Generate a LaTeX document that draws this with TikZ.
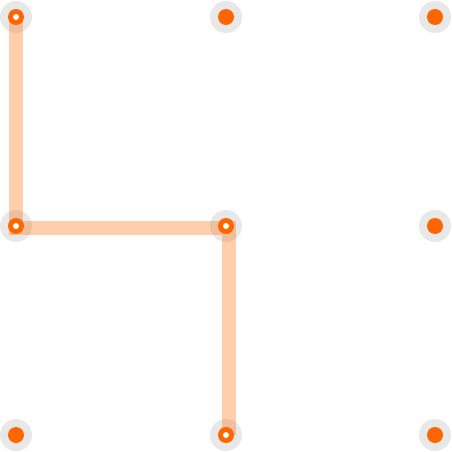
\documentclass[tikz,border=0pt]{standalone}
\definecolor{dotorange}{HTML}{FF6600}
\definecolor{halogray}{HTML}{E8E8E8}
\tikzset{
  halo/.style={circle,fill=halogray,minimum size=32pt,inner sep=0pt},
  dotnode/.style={circle,fill=dotorange,minimum size=16pt,inner sep=0pt},
  hole/.style={circle,fill=white,minimum size=6pt,inner sep=0pt},
  trail/.style={draw=dotorange,draw opacity=0.32,line width=14pt,line join=miter}
}
\begin{document}
\begin{tikzpicture}[x=1pt,y=-1pt]
\useasboundingbox (0,0) rectangle (452,452);
% halos
\foreach \c/\x in {a/16,b/226,c/435}{
  \foreach \r/\y in {1/17,2/226,3/435}{
    \node[halo] (h\c\r) at (\x,\y) {};
  }
}
% path coordinates
\coordinate (p1) at (16,17);
\coordinate (p2) at (16,228);
\coordinate (p3) at (229,228);
\coordinate (p4) at (229,435);
\draw[trail] (p1) -- (p2) -- (p3) -- (p4);
% dots
\foreach \c/\x in {a/16,b/226,c/435}{
  \foreach \r/\y in {1/17,2/226,3/435}{
    \node[dotnode] (d\c\r) at (\x,\y) {};
  }
}
\node[hole] (wa1) at (da1) {};
\node[hole] (wa2) at (da2) {};
\node[hole] (wb2) at (db2) {};
\node[hole] (wb3) at (db3) {};
\end{tikzpicture}
\end{document}
